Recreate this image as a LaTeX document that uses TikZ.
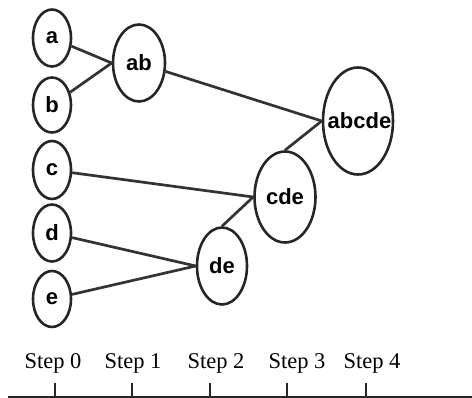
\documentclass[tikz,border=0pt]{standalone}
\usepackage{fontspec}
\setmainfont{Liberation Serif}
\newfontfamily\nodefont{Liberation Sans}
\usetikzlibrary{shapes.geometric}
\begin{document}
\begin{tikzpicture}[x=1pt,y=-1pt,
  ell/.style={ellipse,draw=black!85,line width=2.6pt,inner sep=0pt,
    font=\nodefont\bfseries\fontsize{22}{22}\selectfont},
  conn/.style={draw=black!80,line width=2.7pt},
  steplab/.style={anchor=base,inner sep=0pt,font=\fontsize{22.5}{22.5}\selectfont},
  axis/.style={draw=black!85,line width=2pt}]
\useasboundingbox (0,0) rectangle (472,398);
% leaves
\node[ell,minimum width=38pt,minimum height=57pt] (a) at (52,38) {\makebox[0pt]{a}};
\node[ell,minimum width=38pt,minimum height=55pt] (b) at (52,105) {\makebox[0pt]{b}};
\node[ell,minimum width=38pt,minimum height=58pt] (c) at (52,170) {\makebox[0pt]{c}};
\node[ell,minimum width=38pt,minimum height=57pt] (d) at (52,233) {\makebox[0pt]{d}};
\node[ell,minimum width=38pt,minimum height=56pt] (e) at (52,299) {\makebox[0pt]{e}};
% merges
\node[ell,minimum width=52pt,minimum height=77pt] (ab) at (139,63) {\makebox[0pt]{ab}};
\node[ell,minimum width=50pt,minimum height=77pt] (de) at (222,266) {\makebox[0pt]{de}};
\node[ell,minimum width=61pt,minimum height=91pt] (cde) at (285,197) {\makebox[0pt]{cde}};
\node[ell,minimum width=70pt,minimum height=107pt] (abcde) at (358,121) {\makebox[0pt]{\hspace{3pt}abcde}};
% connectors
\draw[conn] (a) -- (ab.west);
\draw[conn] (b) -- (ab.west);
\draw[conn] (ab) -- (abcde.west);
\draw[conn] (c) -- (cde.west);
\draw[conn] (cde.north) -- (abcde.west);
\draw[conn] (d) -- (de.west);
\draw[conn] (e) -- (de.west);
\draw[conn] (de.north) -- (cde.west);
% axis
\coordinate (axL) at (8,397);
\coordinate (axR) at (472,397);
\draw[axis] (axL) -- (axR);
\foreach \i/\tx/\lx in {0/55/53,1/132/133,2/210/216,3/287/297,4/366/372}{
  \coordinate (t\i) at (\tx,397);
  \coordinate (u\i) at (\tx,383);
  \draw[axis,line width=1.4pt] (t\i) -- (u\i);
  \node[steplab] (s\i) at (\lx,369) {Step \i};
}
\end{tikzpicture}
\end{document}
